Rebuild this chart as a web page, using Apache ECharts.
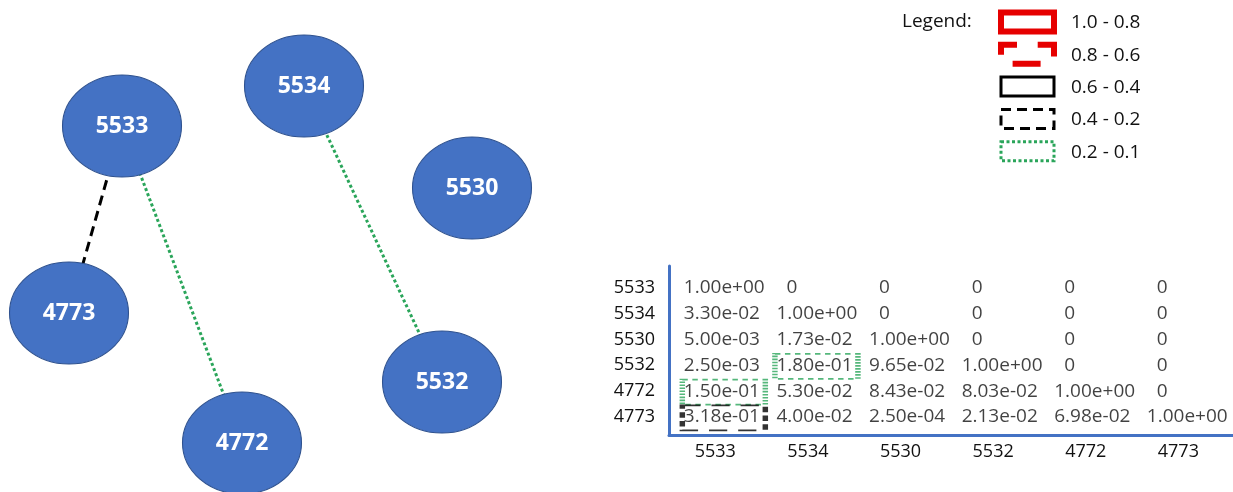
<!DOCTYPE html>
<html>
<head>
  <meta charset="utf-8">
</head>
<body style="margin: 0">
  <div id="container" style="width: 1233px; height: 492px"></div>
  <script src="https://cdn.jsdelivr.net/npm/echarts@6/dist/echarts.min.js"></script>
  <script>
    // node ids, same order for matrix rows and columns
    var names = ['5533', '5534', '5530', '5532', '4772', '4773'];
    // lower triangular similarity matrix (row, col)
    var matrix = [
      [1.00e+00, 0, 0, 0, 0, 0],
      [3.30e-02, 1.00e+00, 0, 0, 0, 0],
      [5.00e-03, 1.73e-02, 1.00e+00, 0, 0, 0],
      [2.50e-03, 1.80e-01, 9.65e-02, 1.00e+00, 0, 0],
      [1.50e-01, 5.30e-02, 8.43e-02, 8.03e-02, 1.00e+00, 0],
      [3.18e-01, 4.00e-02, 2.50e-04, 2.13e-02, 6.98e-02, 1.00e+00]
    ];
    // node layout on the left panel
    var nodeX = [122, 304, 472, 442, 242, 69];
    var nodeY = [126, 86, 188, 382, 443, 313];
    // legend bins
    var binLabels = ['1.0 - 0.8', '0.8 - 0.6', '0.6 - 0.4', '0.4 - 0.2', '0.2 - 0.1'];
    var binLower = [0.8, 0.6, 0.4, 0.2, 0.1];

    var binStyles = [
      { color: '#e60000', width: 6, dash: null },
      { color: '#e60000', width: 6, dash: [28, 20.7], offset: 12 },
      { color: '#000000', width: 3, dash: null },
      { color: '#000000', width: 3, dash: [10, 6] },
      { color: '#2aa55a', width: 3, dash: [3, 2.5] }
    ];
    var textColor = '#111';
    var font = 'Open Sans';

    function fmt(v) {
      if (v === 0) return '0';
      return v.toExponential(2).replace(/e([+-])(\d)$/, 'e$10$2');
    }
    function binOf(v) {
      for (var i = 0; i < binLower.length; i++) {
        if (v >= binLower[i]) return i;
      }
      return -1;
    }

    var cells = [];
    var boxes = [];
    var links = [];
    matrix.forEach(function (row, r) {
      row.forEach(function (v, c) {
        var item = { value: [c + 0.16, r + 0.85, v] };
        if (v === 0) item.label = { offset: [10, 0] };
        cells.push(item);
        if (r === c) return;
        var b = binOf(v);
        if (b < 0) return;
        var s = binStyles[b];
        boxes.push({
          value: [c + 0.16, r + 0.85],
          itemStyle: { borderColor: s.color, borderWidth: s.width, borderType: s.dash || 'solid' }
        });
        links.push({
          source: names[r],
          target: names[c],
          lineStyle: { color: s.color, width: s.width, type: s.dash || 'solid', opacity: 1 }
        });
      });
    });

    var graphic = [{
      type: 'text', x: 902, y: 22,
      style: { text: 'Legend:', fill: textColor, font: '19px ' + font, verticalAlign: 'middle' }
    }];
    binLabels.forEach(function (lab, i) {
      var s = binStyles[i];
      var cy = 22 + i * 32.3;
      graphic.push({
        type: 'rect',
        shape: { x: 1001, y: cy - 9.5, width: 53, height: 19 },
        style: {
          fill: 'transparent', stroke: s.color, lineWidth: s.width,
          lineDash: s.dash, lineDashOffset: s.offset || 0
        }
      });
      graphic.push({
        type: 'text', x: 1071, y: cy + 1,
        style: { text: lab, fill: textColor, font: '19px ' + font, verticalAlign: 'middle' }
      });
    });

    var ellipse = 'path://M50,0C77.6,0,100,22.4,100,50C100,77.6,77.6,100,50,100C22.4,100,0,77.6,0,50C0,22.4,22.4,0,50,0Z';

    var myChart = echarts.init(document.getElementById('container'), null, { renderer: 'canvas' });
    var option = {
      animation: false,
      backgroundColor: '#fff',
      graphic: graphic,
      grid: [
        { left: 0, top: 0, width: 600, height: 492 },
        { left: 669, top: 266, right: 0, bottom: 57 }
      ],
      xAxis: [
        { gridIndex: 0, type: 'value', min: 0, max: 600, show: false },
        {
          gridIndex: 1, type: 'value', min: 0, max: 6.09,
          axisLine: { onZero: false, lineStyle: { color: '#4472c4', width: 3 } },
          axisTick: { show: false },
          splitLine: { show: false },
          axisLabel: {
            customValues: names.map(function (n, i) { return i + 0.5; }),
            formatter: function (v) { return names[Math.floor(v)]; },
            color: textColor, fontSize: 18, fontFamily: font, margin: 8
          }
        }
      ],
      yAxis: [
        { gridIndex: 0, type: 'value', min: 0, max: 492, inverse: true, show: false },
        {
          gridIndex: 1, type: 'value', min: 0, max: 6.55, inverse: true,
          axisLine: { onZero: false, lineStyle: { color: '#4472c4', width: 3 } },
          axisTick: { show: false },
          splitLine: { show: false },
          axisLabel: {
            customValues: names.map(function (n, i) { return i + 0.85; }),
            formatter: function (v) { return names[Math.floor(v)]; },
            color: textColor, fontSize: 18, fontFamily: font, margin: 14
          }
        }
      ],
      series: [
        {
          type: 'graph',
          coordinateSystem: 'cartesian2d',
          xAxisIndex: 0,
          yAxisIndex: 0,
          layout: 'none',
          silent: true,
          symbol: ellipse,
          symbolSize: [119, 102],
          data: names.map(function (n, i) { return { name: n, value: [nodeX[i], nodeY[i]] }; }),
          links: links,
          itemStyle: { color: '#4472c4', borderColor: '#2f528f', borderWidth: 1 },
          lineStyle: { opacity: 1 },
          label: { show: true, color: '#fff', fontSize: 23, fontWeight: 'bold', fontFamily: font }
        },
        {
          type: 'scatter',
          xAxisIndex: 1,
          yAxisIndex: 1,
          silent: true,
          symbolSize: 0,
          data: cells,
          label: {
            show: true,
            position: [0, 0],
            align: 'left',
            verticalAlign: 'middle',
            formatter: function (p) { return fmt(p.value[2]); },
            color: textColor, fontSize: 19, fontFamily: font
          }
        },
        {
          type: 'scatter',
          xAxisIndex: 1,
          yAxisIndex: 1,
          silent: true,
          symbol: 'rect',
          symbolSize: [83, 25],
          symbolOffset: [40, 1],
          itemStyle: { color: 'transparent' },
          data: boxes
        }
      ]
    };
    myChart.setOption(option);
    window.addEventListener('resize', myChart.resize);
  </script>
</body>
</html>
